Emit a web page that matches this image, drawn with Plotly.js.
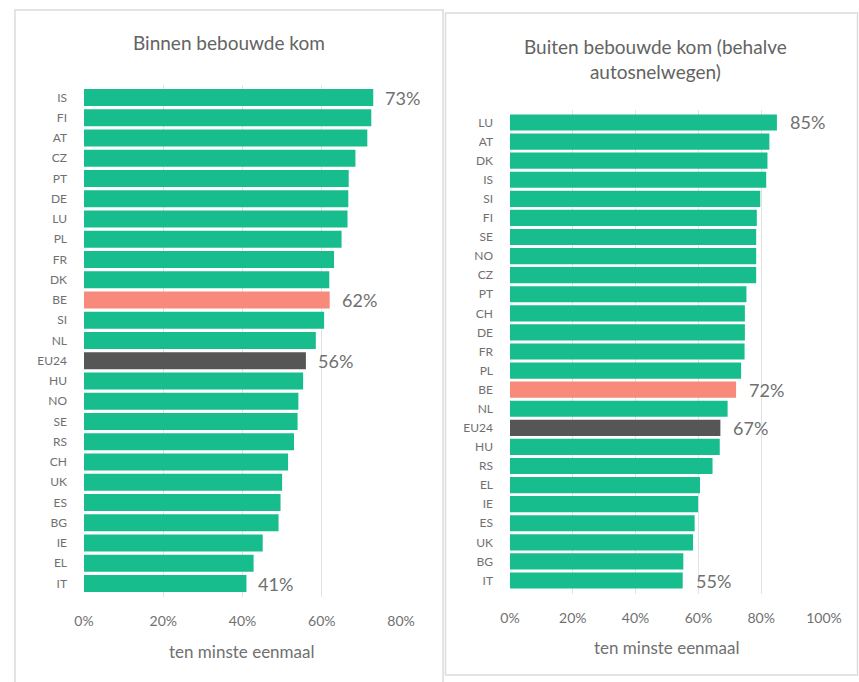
<!DOCTYPE html>
<html>
<head>
<meta charset="utf-8">
<script src="https://cdn.plot.ly/plotly-3.0.1.min.js"></script>
<style>html,body{margin:0;padding:0;background:#fff;}#chart{width:859px;height:682px;}</style>
</head>
<body>
<div id="chart"></div>
<script>
// Left panel: Binnen bebouwde kom
var leftCountries = ["IS","FI","AT","CZ","PT","DE","LU","PL","FR","DK","BE","SI","NL","EU24","HU","NO","SE","RS","CH","UK","ES","BG","IE","EL","IT"];
var leftValues = [73, 72.5, 71.5, 68.5, 66.8, 66.7, 66.5, 65, 63.1, 61.9, 62, 60.6, 58.5, 56, 55.3, 54.1, 53.9, 53, 51.5, 50, 49.6, 49.1, 45.1, 42.8, 41];
// Right panel: Buiten bebouwde kom (behalve autosnelwegen)
var rightCountries = ["LU","AT","DK","IS","SI","FI","SE","NO","CZ","PT","CH","DE","FR","PL","BE","NL","EU24","HU","RS","EL","IE","ES","UK","BG","IT"];
var rightValues = [85, 82.6, 82, 81.6, 79.7, 78.6, 78.4, 78.4, 78.4, 75.3, 74.8, 74.8, 74.7, 73.6, 72, 69.3, 67, 66.8, 64.5, 60.5, 59.9, 58.8, 58.3, 55.2, 55];
var leftLabelled = ["IS","BE","EU24","IT"];
var rightLabelled = ["LU","BE","EU24","IT"];
var leftTicks = [0, 20, 40, 60, 80];
var rightTicks = [0, 20, 40, 60, 80, 100];

var GREEN = "#17bd8c", SALMON = "#f78a7b", DARK = "#565656", TXT = "#707070";
var FONT = "Lato, sans-serif";
function colorsFor(cats) {
  return cats.map(function (c) { return c === "BE" ? SALMON : (c === "EU24" ? DARK : GREEN); });
}

var traces = [
  {type: "bar", orientation: "h", x: leftValues, y: leftCountries, xaxis: "x", yaxis: "y",
   marker: {color: colorsFor(leftCountries)}, hoverinfo: "none"},
  {type: "bar", orientation: "h", x: rightValues, y: rightCountries, xaxis: "x2", yaxis: "y2",
   marker: {color: colorsFor(rightCountries)}, hoverinfo: "none"}
];

var W = 859, H = 682;
function px(v) { return v / W; }
function py(v) { return 1 - v / H; }

var annotations = [];
leftLabelled.forEach(function (c) {
  var i = leftCountries.indexOf(c);
  annotations.push({x: leftValues[i], y: c, xref: "x", yref: "y", text: Math.round(leftValues[i]) + "%",
    showarrow: false, xanchor: "left", xshift: 10, font: {family: FONT, size: 18, color: TXT}});
});
rightLabelled.forEach(function (c) {
  var i = rightCountries.indexOf(c);
  annotations.push({x: rightValues[i], y: c, xref: "x2", yref: "y2", text: Math.round(rightValues[i]) + "%",
    showarrow: false, xanchor: "left", xshift: 11, font: {family: FONT, size: 18, color: TXT}});
});
annotations.push({xref: "paper", yref: "paper", x: px(229), y: py(43), text: "Binnen bebouwde kom",
  showarrow: false, xanchor: "center", yanchor: "middle", font: {family: FONT, size: 19, color: "#636363"}});
annotations.push({xref: "paper", yref: "paper", x: px(655), y: py(59), text: "Buiten bebouwde kom (behalve<br>autosnelwegen)",
  showarrow: false, xanchor: "center", yanchor: "middle", font: {family: FONT, size: 19, color: "#636363"}});
annotations.push({xref: "paper", yref: "paper", x: px(242), y: py(651), text: "ten minste eenmaal",
  showarrow: false, xanchor: "center", yanchor: "middle", font: {family: FONT, size: 17, color: TXT}});
annotations.push({xref: "paper", yref: "paper", x: px(667), y: py(647), text: "ten minste eenmaal",
  showarrow: false, xanchor: "center", yanchor: "middle", font: {family: FONT, size: 17, color: TXT}});

var shapes = [
  {type: "rect", xref: "paper", yref: "paper", x0: px(15), x1: px(443), y0: py(690), y1: py(10),
   line: {color: "#dcdcdc", width: 1.5}, fillcolor: "rgba(0,0,0,0)"},
  {type: "rect", xref: "paper", yref: "paper", x0: px(445.5), x1: px(857.5), y0: py(675), y1: py(13),
   line: {color: "#dcdcdc", width: 1.5}, fillcolor: "rgba(0,0,0,0)"}
];

var tickFont = {family: FONT, size: 14, color: TXT};
var catFont = {family: FONT, size: 12, color: TXT};

var layout = {
  width: W, height: H,
  margin: {l: 0, r: 0, t: 0, b: 0},
  paper_bgcolor: "#ffffff", plot_bgcolor: "rgba(0,0,0,0)",
  showlegend: false, bargap: 0.15,
  xaxis: {domain: [px(84), px(401)], range: [0, 80], tickvals: leftTicks, ticktext: leftTicks.map(function (t) { return t + "%"; }),
    showgrid: true, gridcolor: "#e3e3e3", gridwidth: 1, zeroline: false, showline: false, ticks: "", tickfont: tickFont,
    anchor: "y", fixedrange: true, ticklabelstandoff: 14},
  yaxis: {domain: [py(596.5), py(84.5)], autorange: "reversed", type: "category", showgrid: false, zeroline: false,
    ticks: "", tickfont: catFont, anchor: "x", fixedrange: true, ticklabelstandoff: 16},
  xaxis2: {domain: [px(510), px(824)], range: [0, 100], tickvals: rightTicks, ticktext: rightTicks.map(function (t) { return t + "%"; }),
    showgrid: true, gridcolor: "#e3e3e3", gridwidth: 1, zeroline: false, showline: false, ticks: "", tickfont: tickFont,
    anchor: "y2", fixedrange: true, ticklabelstandoff: 14},
  yaxis2: {domain: [py(593.5), py(109.5)], autorange: "reversed", type: "category", showgrid: false, zeroline: false,
    ticks: "", tickfont: catFont, anchor: "x2", fixedrange: true, ticklabelstandoff: 16},
  annotations: annotations,
  shapes: shapes
};

Plotly.newPlot("chart", traces, layout, {displayModeBar: false, staticPlot: true});
</script>
</body>
</html>
